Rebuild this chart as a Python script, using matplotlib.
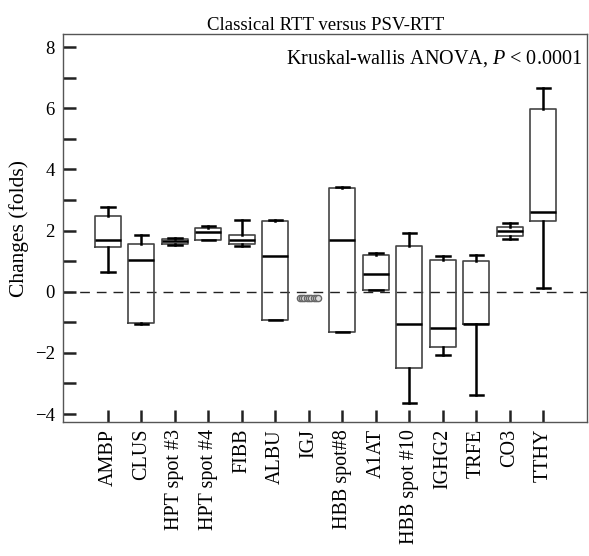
import numpy as np
import matplotlib
matplotlib.use("Agg")
import matplotlib.pyplot as plt
from matplotlib.ticker import MultipleLocator

plt.rcParams['font.family'] = ['Liberation Serif', 'DejaVu Serif']
plt.rcParams['mathtext.fontset'] = 'custom'
plt.rcParams['mathtext.rm'] = 'Liberation Serif'
plt.rcParams['mathtext.it'] = 'Liberation Serif:italic'

# proteins (IGJ shown only as a cluster of points)
labels = ["AMBP", "CLUS", "HPT spot #3", "HPT spot #4", "FIBB", "ALBU", "IGJ",
          "HBB spot#8", "A1AT", "HBB spot #10", "IGHG2", "TRFE", "CO3", "TTHY"]

# box statistics (fold changes)
whislo = [0.65, -1.05, 1.54, 1.68, 1.48, -0.92, None, -1.32, 0.05, -3.64, -2.08, -3.38, 1.72, 0.13]
q1     = [1.46, -1.03, 1.57, 1.68, 1.55, -0.92, None, -1.32, 0.05, -2.48, -1.80, -1.07, 1.83, 2.32]
med    = [1.68, 1.04, 1.66, 1.95, 1.70, 1.16, None, 1.69, 0.58, -1.04, -1.20, -1.07, 1.97, 2.62]
q3     = [2.47, 1.56, 1.72, 2.08, 1.84, 2.32, None, 3.39, 1.20, 1.48, 1.05, 1.02, 2.11, 5.96]
whishi = [2.76, 1.85, 1.75, 2.14, 2.36, 2.36, None, 3.42, 1.25, 1.92, 1.16, 1.19, 2.24, 6.65]

# IGJ individual points
igj_vals = [-0.20, -0.21, -0.20, -0.19, -0.20, -0.21, -0.20, -0.20, -0.19]
igj_offsets = [-0.28, -0.21, -0.14, -0.07, 0.0, 0.07, 0.14, 0.21, 0.28]

fig = plt.figure(figsize=(5.89, 5.56), dpi=100)
ax = fig.add_axes([0.107, 0.241, 0.890, 0.697])

pos = np.arange(len(labels))
stats, bpos = [], []
for i in range(len(labels)):
    if med[i] is None:
        continue
    stats.append(dict(whislo=whislo[i], q1=q1[i], med=med[i], q3=q3[i],
                      whishi=whishi[i], fliers=[]))
    bpos.append(pos[i])

ax.bxp(stats, positions=bpos, widths=0.78, capwidths=0.4, showfliers=False,
       boxprops=dict(color='#444444', linewidth=1.2),
       medianprops=dict(color='black', linewidth=1.8),
       whiskerprops=dict(color='black', linewidth=1.8),
       capprops=dict(color='black', linewidth=1.8))

gi = labels.index("IGJ")
ax.scatter(pos[gi] + np.array(igj_offsets), igj_vals, s=20, facecolor='#dddddd',
           edgecolor='#666666', linewidth=1.0, zorder=3)

ax.axhline(0, color='#222222', linewidth=1.0, linestyle=(0, (7, 5)), zorder=1)

ax.set_xlim(-1.34, 14.31)
ax.set_ylim(-4.26, 8.41)
ax.yaxis.set_major_locator(MultipleLocator(2))
ax.yaxis.set_minor_locator(MultipleLocator(1))
ax.set_xticks(pos)
ax.set_xticklabels(labels, rotation=90, fontsize=14.5)
ax.tick_params(axis='both', which='both', direction='in', length=9, width=1.8, color='#222222')
ax.tick_params(axis='y', labelsize=13.5, pad=6)
ax.tick_params(axis='x', pad=5)
for s in ax.spines.values():
    s.set_color('#555555')
    s.set_linewidth(1.0)

ax.set_ylabel("Changes (folds)", fontsize=15.5, labelpad=4)
ax.set_title("Classical RTT versus PSV-RTT", fontsize=13.5, pad=3)
ax.text(0.99, 0.965, r"Kruskal-wallis ANOVA, $P$ < 0.0001", transform=ax.transAxes,
        ha='right', va='top', fontsize=14.5)

fig.savefig("out.png", dpi=100)
